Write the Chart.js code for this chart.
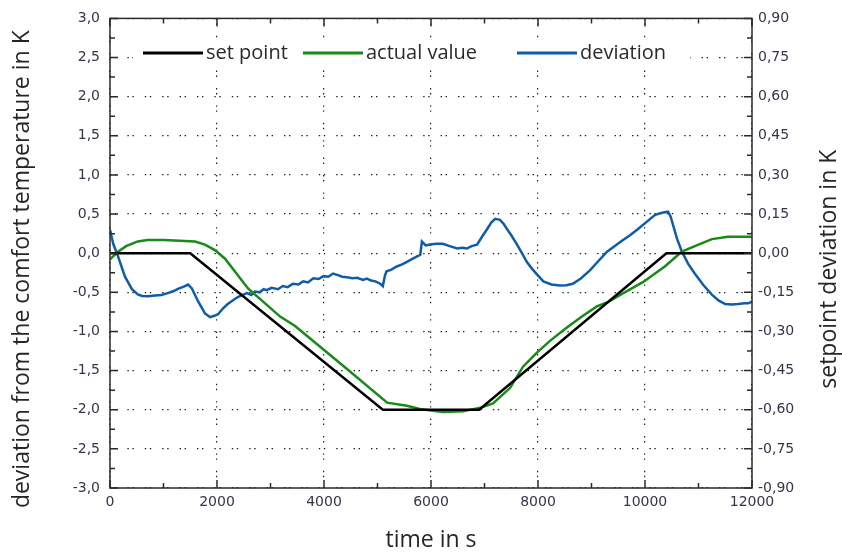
<!DOCTYPE html>
<html>
<head>
<meta charset="utf-8">
<script src="https://cdn.jsdelivr.net/npm/chart.js@4.4.1/dist/chart.umd.min.js"></script>
<style>
  html, body { margin: 0; padding: 0; background: #fff; }
</style>
</head>
<body>
<canvas id="chart" width="842" height="556"></canvas>
<script>
// comfort temperature: set point vs. actual value, plus deviation (right axis)

const seriesNames = ['set point', 'actual value', 'deviation'];

const setTime = [0, 1500, 5100, 6900, 10400, 12000];
const setValue = [0, 0, -2, -2, 0, 0];

const actualTime = [0, 150, 300, 520, 700, 1000, 1300, 1590, 1775, 1960, 2150, 2580, 3180, 3460,
  4430, 5180, 5550, 5790, 6220, 6600, 6950, 7160, 7480, 7720, 7980, 8224, 8540, 8841, 9100, 9290,
  9570, 9960, 10370, 10690, 11000, 11250, 11550, 12000];
const actualValue = [-0.08, 0.02, 0.09, 0.15, 0.17, 0.17, 0.16, 0.15, 0.11, 0.04, -0.07, -0.45, -0.81, -0.93,
  -1.48, -1.91, -1.95, -1.99, -2.03, -2.02, -1.97, -1.92, -1.72, -1.45, -1.27, -1.12, -0.95, -0.80, -0.68, -0.63,
  -0.52, -0.37, -0.17, 0.02, 0.11, 0.18, 0.21, 0.21];

const devTime = [0, 60, 150, 280, 410, 520, 600, 720, 840, 960, 1080, 1180, 1270, 1380, 1460, 1530,
  1650, 1775, 1870, 1950, 2020, 2110, 2200, 2300, 2390, 2480, 2560, 2640, 2710, 2800, 2870, 2930,
  3020, 3140, 3230, 3320, 3420, 3520, 3610, 3700, 3800, 3900, 3990, 4080, 4170, 4260, 4340, 4430,
  4530, 4620, 4730, 4800, 4880, 4960, 5050, 5100, 5140, 5170, 5260, 5360, 5450, 5550, 5660, 5760,
  5800, 5830, 5900, 5980, 6100, 6220, 6350, 6490, 6580, 6670, 6760, 6860, 6960, 7050, 7130, 7200,
  7290, 7360, 7420, 7510, 7600, 7700, 7790, 7890, 7980, 8100, 8250, 8410, 8530, 8650, 8800, 8970,
  9130, 9290, 9430, 9570, 9720, 9870, 10030, 10190, 10320, 10430, 10480, 10520, 10600, 10690, 10810,
  10930, 11090, 11250, 11380, 11500, 11620, 11740, 11860, 11930, 12000];
const devValue = [0.090, 0.036, -0.012, -0.090, -0.138, -0.158, -0.164, -0.165, -0.162, -0.160, -0.153, -0.146, -0.137, -0.128, -0.120, -0.135,
  -0.186, -0.231, -0.245, -0.240, -0.234, -0.212, -0.195, -0.180, -0.168, -0.160, -0.153, -0.160, -0.147, -0.150, -0.138, -0.142,
  -0.133, -0.138, -0.126, -0.130, -0.117, -0.120, -0.108, -0.112, -0.096, -0.099, -0.088, -0.090, -0.078, -0.084, -0.090, -0.092,
  -0.096, -0.094, -0.102, -0.097, -0.105, -0.108, -0.117, -0.126, -0.085, -0.069, -0.063, -0.051, -0.044, -0.033, -0.021, -0.010,
  -0.006, 0.045, 0.030, 0.033, 0.036, 0.036, 0.027, 0.018, 0.021, 0.018, 0.027, 0.033, 0.065, 0.093, 0.118, 0.132,
  0.128, 0.112, 0.093, 0.066, 0.036, 0.000, -0.033, -0.060, -0.081, -0.108, -0.120, -0.124, -0.123, -0.117, -0.097, -0.066,
  -0.030, 0.006, 0.027, 0.048, 0.069, 0.093, 0.120, 0.147, 0.155, 0.159, 0.140, 0.111, 0.055, 0.006, -0.042,
  -0.078, -0.122, -0.159, -0.182, -0.195, -0.197, -0.195, -0.192, -0.192, -0.186];

const timeTicks = [0, 2000, 4000, 6000, 8000, 10000, 12000];
const leftTicks = [-3, -2.5, -2, -1.5, -1, -0.5, 0, 0.5, 1, 1.5, 2, 2.5, 3];
const rightTicks = [-0.9, -0.75, -0.6, -0.45, -0.3, -0.15, 0, 0.15, 0.3, 0.45, 0.6, 0.75, 0.9];

const leftTitle = 'deviation from the comfort temperature in K';
const rightTitle = 'setpoint deviation in K';
const bottomTitle = 'time in s';

const colors = ['#000000', '#178a17', '#0f5ca8'];
const tickFont = { family: 'DejaVu Sans', size: 14 };
const tickColor = '#34344e';
const titleFont = '23px "Open Sans"';
const legendFont = '20px "Open Sans"';
const gridDash = [1.4, 3.6, 1.4, 11];

const pairs = (xs, ys) => xs.map((x, i) => ({ x, y: ys[i] }));
const comma = (digits) => (v) => v.toFixed(digits).replace('.', ',');

// frame with inward ticks, rotated side titles and the legend inside the plot
const frame = {
  id: 'frame',
  afterDraw(chart) {
    const { ctx, chartArea: a, scales } = chart;
    ctx.save();
    ctx.strokeStyle = '#2b2b2b';
    ctx.lineWidth = 1.5;
    ctx.strokeRect(a.left, a.top, a.right - a.left, a.bottom - a.top);

    ctx.beginPath();
    for (let t = 0; t <= 12000; t += 1000) {
      const px = scales.x.getPixelForValue(t);
      const len = t % 2000 === 0 ? 8 : 5;
      ctx.moveTo(px, a.bottom); ctx.lineTo(px, a.bottom - len);
      ctx.moveTo(px, a.top); ctx.lineTo(px, a.top + len);
    }
    for (let k = -12; k <= 12; k++) {
      const py = scales.y.getPixelForValue(k * 0.25);
      const len = k % 2 === 0 ? 8 : 5;
      ctx.moveTo(a.left, py); ctx.lineTo(a.left + len, py);
      ctx.moveTo(a.right, py); ctx.lineTo(a.right - len, py);
    }
    ctx.stroke();

    // side titles, both reading bottom to top
    const midY = (a.top + a.bottom) / 2 + 16;
    ctx.fillStyle = '#262626';
    ctx.font = titleFont;
    ctx.textAlign = 'center';
    ctx.textBaseline = 'middle';
    [[22, leftTitle], [829, rightTitle]].forEach(([x, text]) => {
      ctx.save();
      ctx.translate(x, midY);
      ctx.rotate(-Math.PI / 2);
      ctx.fillText(text, 0, 0);
      ctx.restore();
    });

    // legend
    const ly = 53;
    ctx.fillStyle = '#fff';
    ctx.fillRect(133, 38, 557, 32);
    const starts = [143, 303, 517];
    ctx.font = legendFont;
    ctx.textAlign = 'left';
    ctx.lineWidth = 3;
    seriesNames.forEach((name, i) => {
      ctx.strokeStyle = colors[i];
      ctx.beginPath();
      ctx.moveTo(starts[i], ly);
      ctx.lineTo(starts[i] + 60, ly);
      ctx.stroke();
      ctx.fillStyle = '#2a2a2a';
      ctx.fillText(name, starts[i] + 63, ly);
    });
    ctx.restore();
  }
};

new Chart(document.getElementById('chart'), {
  type: 'line',
  data: {
    datasets: [
      { label: seriesNames[0], data: pairs(setTime, setValue), borderColor: colors[0], yAxisID: 'y' },
      { label: seriesNames[1], data: pairs(actualTime, actualValue), borderColor: colors[1], yAxisID: 'y' },
      { label: seriesNames[2], data: pairs(devTime, devValue), borderColor: colors[2], yAxisID: 'y1' },
    ],
  },
  options: {
    responsive: false,
    animation: false,
    layout: { padding: { top: 15, left: 0, right: 0, bottom: 0 } },
    elements: {
      point: { radius: 0 },
      line: { tension: 0, borderWidth: 2.5, fill: false },
    },
    plugins: {
      legend: { display: false },
      tooltip: { enabled: false },
    },
    scales: {
      x: {
        type: 'linear',
        min: 0,
        max: 12000,
        afterBuildTicks: (s) => { s.ticks = timeTicks.map((value) => ({ value })); },
        afterFit: (s) => { s.height = 68; },
        ticks: { padding: 6, font: tickFont, color: tickColor, maxRotation: 0, callback: (v) => String(v) },
        grid: { color: '#1e1e1e', lineWidth: 1.2, drawTicks: false },
        border: { display: false, dash: gridDash },
        title: {
          display: true,
          text: bottomTitle,
          color: '#262626',
          font: { family: 'Open Sans', size: 23 },
          padding: { top: 0, bottom: 2 },
        },
      },
      y: {
        position: 'left',
        min: -3,
        max: 3,
        afterBuildTicks: (s) => { s.ticks = leftTicks.map((value) => ({ value })); },
        afterFit: (s) => { s.width = 110; },
        ticks: { padding: 10, font: tickFont, color: tickColor, callback: comma(1) },
        grid: { color: '#1e1e1e', lineWidth: 1.2, drawTicks: false },
        border: { display: false, dash: gridDash },
      },
      y1: {
        position: 'right',
        min: -0.9,
        max: 0.9,
        afterBuildTicks: (s) => { s.ticks = rightTicks.map((value) => ({ value })); },
        afterFit: (s) => { s.width = 90; },
        ticks: { padding: 6, font: tickFont, color: tickColor, callback: comma(2) },
        grid: { display: false, drawTicks: false },
        border: { display: false },
      },
    },
  },
  plugins: [frame],
});
</script>
</body>
</html>
